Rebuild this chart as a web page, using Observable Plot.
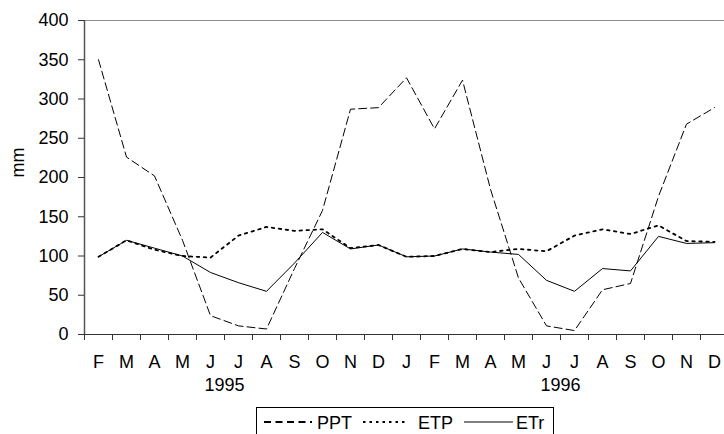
<!DOCTYPE html>
<html><head><meta charset="utf-8">
<script src="https://cdn.jsdelivr.net/npm/d3@7"></script>
<script src="https://cdn.jsdelivr.net/npm/@observablehq/plot@0.6"></script>
<style>
html,body{margin:0;padding:0;background:#fff;overflow:hidden;width:724px;height:434px}
#wrap{position:relative;width:724px;height:434px;font-family:"Liberation Sans",Arial,sans-serif}
#legend{position:absolute;left:256px;top:407px;width:296px;height:40px;border:1px solid #000;background:#fff}
</style></head><body><div id="wrap"><div id="chart"></div><div id="legend"></div></div>
<script>
// ---- data ----
const months = ["F","M","A","M","J","J","A","S","O","N","D","J","F","M","A","M","J","J","A","S","O","N","D"];
const PPT = [350,226,202,120,24,11,7,84,158,287,289,327,262,324,185,72,11,5,57,65,176,268,289];
const ETP = [99,120,108,100,98,126,137,132,134,110,114,99,100,109,105,109,106,126,134,128,139,119,118];
const ETr = [99,120,110,100,79,66,55,91,130,109,114,99,100,109,105,102,69,55,84,81,125,116,117];
const seriesNames = ["PPT","ETP","ETr"];
const yTicks = [0,50,100,150,200,250,300,350,400];
const yLabel = "mm";
const startYear = 1995, startMonthIndex = 1; // February 1995

// ---- derived ----
const n = months.length;
const dates = months.map((m, i) => new Date(startYear, startMonthIndex + i, 1));
const seriesValues = [PPT, ETP, ETr];
const rows = [];
seriesValues.forEach((vals, s) => vals.forEach((v, i) => rows.push({i, v, series: seriesNames[s]})));
const years = Array.from(new Set(dates.map(d => d.getFullYear())));
const yearLabels = years.map(y => ({
  year: String(y),
  pos: dates.findIndex(d => d.getFullYear() === y && d.getMonth() === 5) + 0.5
}));
const bounds = d3.range(n + 1).map(k => k - 0.5);
const lineStyle = {
  PPT: {dash: "8,4", width: 1, legendWidth: 2, legendDash: "7,4.5"},
  ETP: {dash: "2.5,4.5", width: 1.8, legendWidth: 2, legendDash: "2.5,4"},
  ETr: {dash: null, width: 1, legendWidth: 1, legendDash: null}
};
const font = "'Liberation Sans', Arial, sans-serif";

const drawOrder = ["ETr", "ETP", "PPT"];
const lineMarks = drawOrder.map(name => Plot.line(rows.filter(r => r.series === name), {
  x: "i", y: "v", stroke: "#000", strokeWidth: lineStyle[name].width,
  strokeDasharray: lineStyle[name].dash || undefined
}));

const chart = Plot.plot({
  width: 724, height: 434,
  marginLeft: 84, marginTop: 20, marginRight: 0, marginBottom: 100,
  style: {fontFamily: font, fontSize: "18px", color: "#000", background: "transparent"},
  x: {type: "linear", domain: [bounds[0], bounds[n]], range: [84, 728]},
  y: {domain: [yTicks[0], yTicks[yTicks.length - 1]], range: [334, 20]},
  marks: [
    Plot.ruleY([yTicks[yTicks.length - 1]], {stroke: "#8c8c8c", strokeWidth: 1}),
    ...lineMarks,
    Plot.ruleY([yTicks[0]], {stroke: "#333", strokeWidth: 1}),
    Plot.ruleX([bounds[0]], {stroke: "#555", strokeWidth: 1.5}),
    Plot.axisY({ticks: yTicks, tickSize: 6, tickPadding: 10, label: null, stroke: "#333"}),
    Plot.axisX({ticks: bounds, tickSize: 6, tickFormat: () => "", label: null, stroke: "#333"}),
    Plot.axisX({ticks: d3.range(n), tickSize: 0, tickPadding: 21, tickFormat: i => months[i], label: null}),
    Plot.text(yearLabels, {x: "pos", text: "year", frameAnchor: "bottom", dy: 56}),
    Plot.text([yLabel], {text: d => d, frameAnchor: "left", dx: -66, rotate: -90})
  ]
});
document.getElementById("chart").appendChild(chart);

// ---- legend ----
const legendItems = [
  {name: "PPT", x0: 7, x1: 55, tx: 60},
  {name: "ETP", x0: 106, x1: 148, tx: 161},
  {name: "ETr", x0: 207, x1: 256, tx: 259}
];
const lsvg = d3.select("#legend").append("svg").attr("width", 296).attr("height", 40)
  .style("display", "block").style("font-family", font).style("font-size", "18px");
legendItems.forEach(it => {
  const st = lineStyle[it.name];
  lsvg.append("line").attr("x1", it.x0).attr("x2", it.x1).attr("y1", 14).attr("y2", 14)
    .attr("stroke", "#000").attr("stroke-width", st.legendWidth)
    .attr("stroke-dasharray", st.legendDash || null);
  lsvg.append("text").attr("x", it.tx).attr("y", 20.5).attr("fill", "#000").text(it.name);
});
</script></body></html>
